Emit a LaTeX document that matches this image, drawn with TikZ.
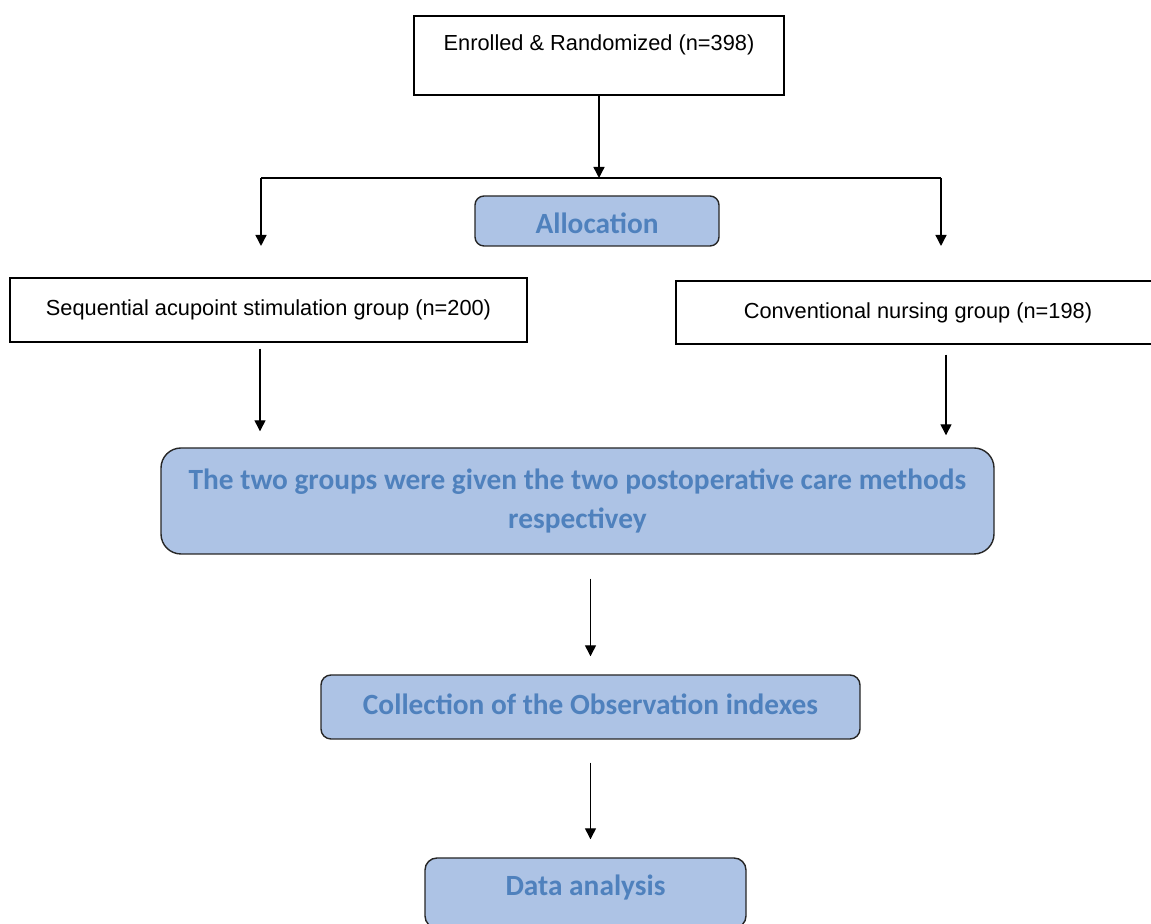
\documentclass[tikz,border=0pt]{standalone}
\usepackage{fontspec}
\setmainfont{Liberation Sans}
\newfontfamily\calfont{Carlito}
\usetikzlibrary{arrows.meta, positioning}
\definecolor{flowfill}{RGB}{173,195,229}
\definecolor{flowtext}{RGB}{79,129,189}

\begin{document}
\begin{tikzpicture}[
  plainbox/.style={rectangle, draw=black, fill=white, line width=0.8pt, font=\fontsize{12.4}{14}\selectfont, align=center},
  stagebox/.style={rectangle, draw=black!85, fill=flowfill, rounded corners=#1, line width=0.8pt, font=\calfont\bfseries\fontsize{16.7}{22}\selectfont, text=flowtext, align=center},
  arr/.style={-{Triangle[length=0.22cm, width=0.22cm]}, line width=0.8pt, black},
]
  \clip (0,0) rectangle (23.02,18.48);

  % Enrollment
  \node[plainbox, minimum width=7.4cm, minimum height=1.58cm, text depth=0.5cm] (enrolled) at (11.98, 17.37) {Enrolled \& Randomized (n=398)};
  \coordinate (split) at (11.94, 14.92);
  \coordinate (lbranch) at (5.22, 13.56);
  \coordinate (rbranch) at (18.82, 13.56);
  \node[stagebox=0.18cm, minimum width=4.88cm, minimum height=1.0cm, text height=0.5cm] (alloc) at (11.94, 14.06) {Allocation};

  % Groups
  \node[plainbox, minimum width=10.34cm, minimum height=1.28cm] (seqgrp) at (5.37, 12.28) {Sequential acupoint stimulation group (n=200)};
  \node[plainbox, minimum width=9.68cm, minimum height=1.26cm] (convgrp) at (18.36, 12.23) {Conventional nursing group (n=198)};

  % Care and follow-up
  \node[stagebox=0.4cm, minimum width=16.66cm, minimum height=2.12cm] (care) at (11.55, 8.46) {The two groups were given the two postoperative care methods\\respectivey};
  \node[stagebox=0.2cm, minimum width=10.78cm, minimum height=1.28cm, text depth=0.1cm] (collect) at (11.81, 4.34) {Collection of the Observation indexes};
  \node[stagebox=0.24cm, minimum width=6.42cm, minimum height=1.4cm, text depth=0.3cm] (analysis) at (11.71, 0.62) {Data analysis};

  % Arrows
  \draw[arr] (enrolled.south) -- (enrolled.south |- split);
  \draw[line width=0.8pt] (lbranch |- split) -- (rbranch |- split);
  \draw[arr] (lbranch |- split) -- (lbranch);
  \draw[arr] (rbranch |- split) -- (rbranch);
  \draw[arr, shorten <=0.12cm, shorten >=0.32cm] ([xshift=-0.17cm]seqgrp.south) -- ([xshift=-0.17cm]seqgrp.south |- care.north);
  \draw[arr, shorten <=0.2cm, shorten >=0.24cm] ([xshift=0.56cm]convgrp.south) -- ([xshift=0.56cm]convgrp.south |- care.north);
  \draw[arr, shorten <=0.48cm, shorten >=0.36cm] (care.south -| collect.south) -- (collect.north);
  \draw[arr, shorten <=0.46cm, shorten >=0.36cm] (collect.south) -- (collect.south |- analysis.north);
\end{tikzpicture}
\end{document}
